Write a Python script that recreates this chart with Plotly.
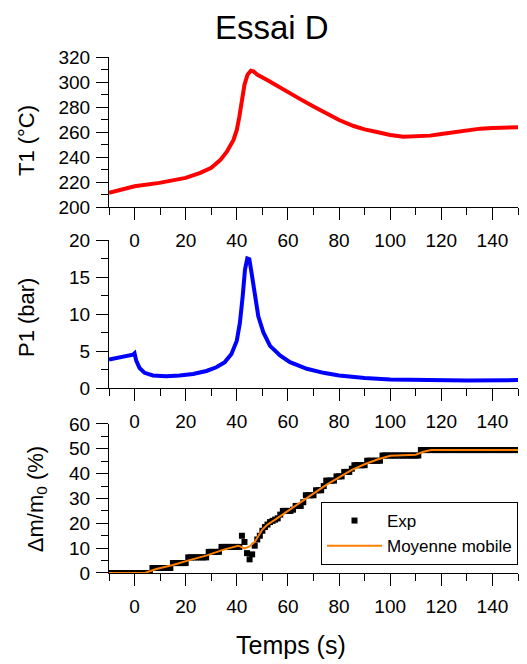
import plotly.graph_objects as go

# ---------------- Data ----------------
t1_time = [-10, 0, 9.7, 20, 25.7, 30, 33.5, 36.1, 38.7, 40, 41, 42.1, 43, 44.2, 45.5, 46.5,
           48.1, 51.7, 55.6, 60, 64.8, 70, 75.3, 80, 85.7, 90, 94.8, 100, 105.2, 110,
           115.6, 120, 124.8, 130, 135.3, 140, 150]
t1_vals = [211.3, 216.6, 219.3, 223.3, 227.3, 231.3, 237.5, 244.2, 253.6, 261.6, 272.3, 285.7,
           297.8, 305.8, 309.0, 308.5, 305.8, 301.8, 297.0, 291.6, 286.3, 280.4, 274.5, 269.6,
           264.8, 262.1, 260.0, 257.6, 256.3, 256.3, 257.1, 258.4, 260.0, 261.6, 262.7, 263.2,
           263.8]

p1_time = [-10, -4.5, -0.65, 0, 0.65, 1.96, 3.9, 7.2, 12.4, 17.6, 22.9, 28.1, 32, 35.3, 37.9,
           40, 41.2, 42.3, 43.2, 44.1, 44.9, 45.8, 46.9, 48.4, 50.4, 53, 56.9, 60.8, 67.4,
           73.9, 80, 90, 100, 110.4, 130, 150]
p1_vals = [3.84, 4.15, 4.5, 4.7, 3.7, 2.7, 2.05, 1.7, 1.6, 1.7, 1.9, 2.3, 2.8, 3.5, 4.6,
           6.4, 8.8, 12.4, 16.0, 17.5, 17.4, 15.5, 12.9, 9.7, 7.5, 5.7, 4.4, 3.5, 2.6,
           2.05, 1.7, 1.34, 1.16, 1.07, 1.03, 1.07]

exp_time = list(range(-10, 151))
exp_vals = (
    [0.0] * 17                                   # -10 .. 6
    + [2.0] * 8                                  # 7 .. 14
    + [4.0] * 6                                  # 15 .. 20
    + [6.3] * 8                                  # 21 .. 28
    + [8.5] * 5                                  # 29 .. 33
    + [10.5] * 8                                 # 34 .. 41
    + [15.0, 12.5, 8.0, 5.5, 7.5, 11.0, 13.5, 15.0, 17.0, 18.5,   # 42 .. 51
       19.5, 20.5, 21.0, 21.5, 22.0, 23.5, 25.0, 25.0, 25.0, 25.0,  # 52 .. 61
       25.5, 27.0, 27.0, 27.0, 28.5, 31.3, 31.3, 31.3, 31.3, 33.3,  # 62 .. 71
       33.3, 33.3, 35.0, 37.2, 37.2, 37.2, 37.2, 38.9, 38.9, 38.9,  # 72 .. 81
       40.7, 40.7, 40.7, 42.0, 43.4, 43.4, 43.4, 43.4, 43.4, 45.2,  # 82 .. 91
       45.2, 45.2, 45.2, 45.2, 45.2]                                # 92 .. 96
    + [47.3] * 15                                # 97 .. 111
    + [49.5] * 39                                # 112 .. 150
)

mm_time = [-10, 4, 8.5, 15, 21.5, 28, 34.6, 40.5, 41.5, 43, 45, 47, 50, 52, 55, 60, 65, 70,
           75, 80, 85, 90, 95, 100, 105, 110, 113, 116, 150]
mm_vals = [0, 0, 1.6, 3.2, 5.2, 7.0, 9.3, 11.0, 10.6, 9.9, 10.7, 12.5, 17.5, 19.5, 21.5, 25.0,
           28.5, 32.0, 35.5, 38.5, 41.5, 43.8, 45.7, 47.2, 47.4, 47.6, 48.8, 49.5, 49.5]

x_tickvals = [0, 20, 40, 60, 80, 100, 120, 140]

# ---------------- Figure ----------------
FONT = "Liberation Sans, Arial, sans-serif"

fig = go.Figure()
fig.add_trace(go.Scatter(x=t1_time, y=t1_vals, mode="lines", line=dict(color="#ff0000", width=4),
                         xaxis="x", yaxis="y", showlegend=False))
fig.add_trace(go.Scatter(x=p1_time, y=p1_vals, mode="lines", line=dict(color="#0000ff", width=4),
                         xaxis="x2", yaxis="y2", showlegend=False))
fig.add_trace(go.Scatter(x=exp_time, y=exp_vals, mode="markers", name="Exp",
                         marker=dict(symbol="square", size=6, color="black"),
                         xaxis="x3", yaxis="y3"))
fig.add_trace(go.Scatter(x=mm_time, y=mm_vals, mode="lines", name="Moyenne mobile",
                         line=dict(color="#ff7f00", width=2),
                         xaxis="x3", yaxis="y3"))

common = dict(showline=True, linecolor="black", linewidth=1, ticks="outside", ticklen=12,
              tickwidth=1, tickcolor="black", showgrid=False, zeroline=False, automargin=False,
              tickfont=dict(family=FONT, size=19, color="black"))

def xax(anchor):
    return dict(common, domain=[0, 1], anchor=anchor, range=[-10, 150], tickvals=x_tickvals,
                ticklabelstandoff=4,
                minor=dict(ticks="outside", ticklen=7, tickcolor="black", tickwidth=1,
                           dtick=10, tick0=0))

def yax(rng, dtick, mdtick, dom, anchor):
    return dict(common, domain=dom, anchor=anchor, range=rng, dtick=dtick, tick0=0,
                ticklabelstandoff=2,
                minor=dict(ticks="outside", ticklen=7, tickcolor="black", tickwidth=1,
                           dtick=mdtick, tick0=0))

d_top = [0.7093, 1.0]
d_mid = [0.3585, 0.6453]
d_bot = [0.0, 0.2888]

fig.update_layout(
    width=519, height=656,
    margin=dict(l=101, r=9, t=49, b=91, autoexpand=False),
    paper_bgcolor="white", plot_bgcolor="white",
    font=dict(family=FONT, color="black"),
    xaxis=xax("y"), xaxis2=xax("y2"), xaxis3=xax("y3"),
    yaxis=yax([200, 320], 20, 10, d_top, "x"),
    yaxis2=yax([0, 20], 5, 2.5, d_mid, "x2"),
    yaxis3=yax([0, 60], 10, 5, d_bot, "x3"),
    legend=dict(x=1.0, xanchor="right", y=0.1376, yanchor="top",
                bgcolor="white", bordercolor="black", borderwidth=1,
                font=dict(family=FONT, size=17, color="black"),
                tracegroupgap=0, itemwidth=55),
    annotations=[
        dict(text="Essai D", x=0.3985, y=1.095, xref="paper", yref="paper",
             xanchor="center", yanchor="top", showarrow=False, borderpad=0,
             font=dict(family=FONT, size=33, color="black")),
        dict(text="T1 (°C)", x=-0.203, y=0.839, xref="paper", yref="paper", textangle=-90,
             xanchor="center", yanchor="middle", showarrow=False,
             font=dict(family=FONT, size=22, color="black")),
        dict(text="P1 (bar)", x=-0.203, y=0.496, xref="paper", yref="paper", textangle=-90,
             xanchor="center", yanchor="middle", showarrow=False,
             font=dict(family=FONT, size=22, color="black")),
        dict(text="Δm/m<sub>0</sub> (%)", x=-0.176, y=0.143, xref="paper", yref="paper",
             textangle=-90, xanchor="center", yanchor="middle", showarrow=False,
             font=dict(family=FONT, size=22, color="black")),
        dict(text="Temps (s)", x=0.445, y=-0.1395, xref="paper", yref="paper",
             xanchor="center", yanchor="middle", showarrow=False,
             font=dict(family=FONT, size=25, color="black")),
    ],
)

fig.write_html("out.html")
